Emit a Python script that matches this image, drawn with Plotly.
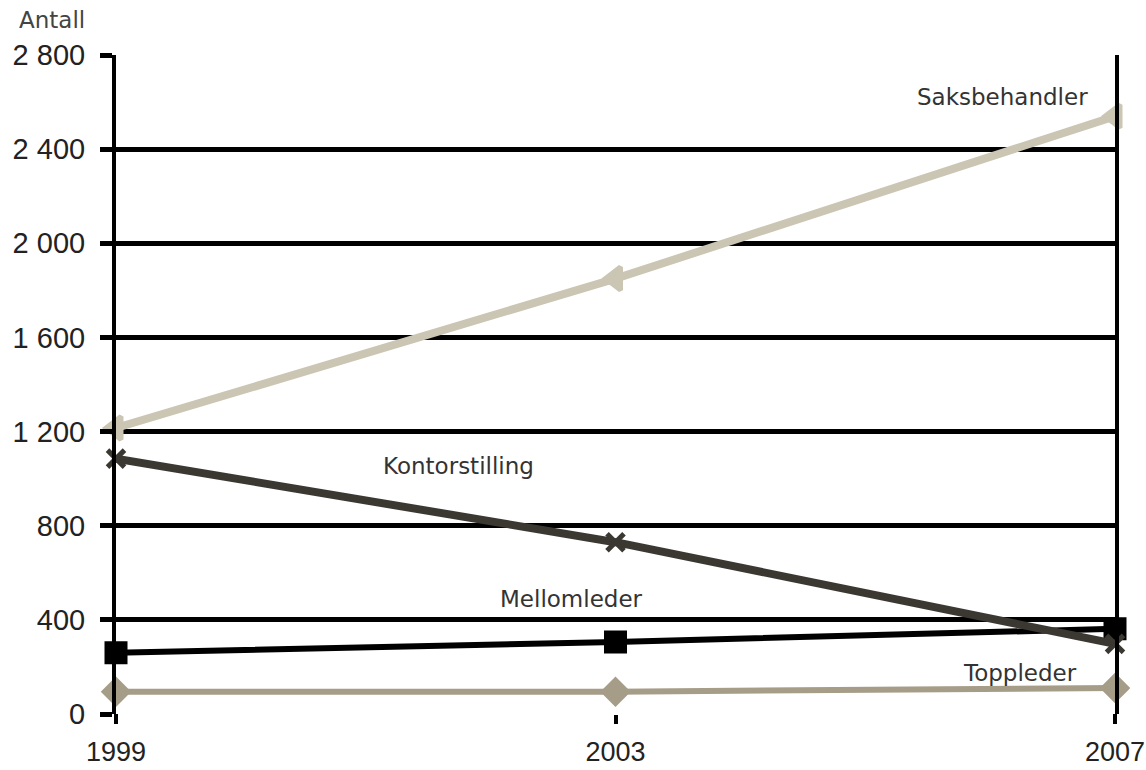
import plotly.graph_objects as go

years = [1999, 2003, 2007]
saksbehandler = [1215, 1850, 2540]
kontorstilling = [1085, 730, 298]
mellomleder = [260, 306, 362]
toppleder = [95, 95, 110]

y_ticks = [0, 400, 800, 1200, 1600, 2000, 2400, 2800]
y_ticktext = ["0", "400", "800", "1 200", "1 600", "2 000", "2 400", "2 800"]
x_ticks = [1999, 2003, 2007]

series = [
    ("Toppleder", toppleder, "#a69d88", 6, "diamond", 18),
    ("Mellomleder", mellomleder, "#000000", 6, "square", 18),
    ("Kontorstilling", kontorstilling, "#3b3832", 8, "x-thin-open", 17),
    ("Saksbehandler", saksbehandler, "#cbc5b3", 8, "triangle-left", 20),
]

fig = go.Figure()
for name, vals, color, lw, sym, ms in series:
    fig.add_trace(go.Scatter(
        x=years, y=vals, name=name, mode="lines+markers",
        line=dict(color=color, width=lw),
        marker=dict(symbol=sym, size=ms, color=color, line=dict(color=color, width=5)),
        cliponaxis=False,
    ))

label_font = dict(family="DejaVu Sans", size=23, color="#333333")
labels = [
    ("Saksbehandler", 2006.10, 2621),
    ("Kontorstilling", 2001.74, 1052),
    ("Mellomleder", 2002.65, 489),
    ("Toppleder", 2006.24, 175),
]
for txt, x, y in labels:
    fig.add_annotation(x=x, y=y, text=txt, showarrow=False, font=label_font)

fig.add_annotation(x=-0.064, y=1.053, xref="paper", yref="paper", xanchor="center",
                   yanchor="middle", text="Antall", showarrow=False,
                   font=dict(family="DejaVu Sans", size=23, color="#444444"))

tick_font = dict(family="Liberation Sans, Arial", size=29, color="#222222")
x_tick_font = dict(family="Liberation Sans, Arial", size=27, color="#222222")
fig.update_layout(
    width=1146, height=770,
    margin=dict(l=116, r=31, t=55, b=56, autoexpand=False),
    paper_bgcolor="white", plot_bgcolor="white",
    showlegend=False,
    xaxis=dict(range=[1999, 2007], tickvals=x_ticks, ticktext=[str(v) for v in x_ticks],
               showgrid=False, zeroline=False, showline=False, tickfont=x_tick_font,
               ticks="outside", ticklen=9, tickwidth=4, tickcolor="black",
               ticklabelstandoff=5, automargin=False, ticklabeloverflow="allow"),
    yaxis=dict(range=[0, 2800], tickvals=y_ticks, ticktext=y_ticktext, tickfont=tick_font,
               showgrid=True, gridcolor="black", gridwidth=5,
               zeroline=False, showline=True, linecolor="black", linewidth=4,
               mirror=True, ticks="outside", ticklen=12, tickwidth=5, tickcolor="black",
               ticklabelstandoff=9, automargin=False, ticklabeloverflow="allow"),
)
fig.add_shape(type="line", xref="paper", yref="paper", x0=0, x1=0, y0=-0.012, y1=0,
              line=dict(color="black", width=4))
fig.add_shape(type="line", xref="paper", yref="paper", x0=1, x1=1, y0=-0.012, y1=0,
              line=dict(color="black", width=4))
fig.write_html("out.html")
